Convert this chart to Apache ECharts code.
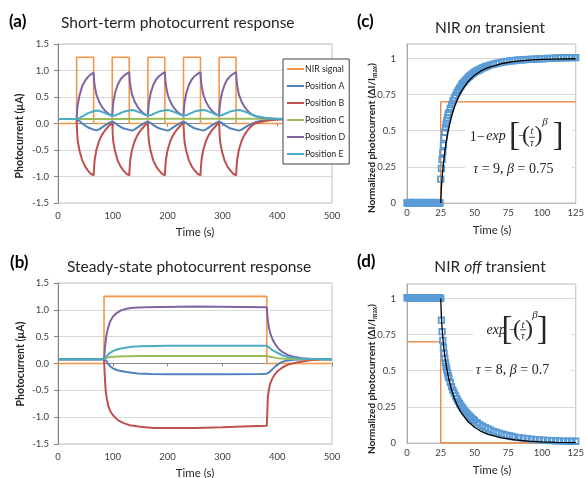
<!DOCTYPE html>
<html><head><meta charset="utf-8">
<script src="https://cdn.jsdelivr.net/npm/echarts@6/dist/echarts.min.js"></script>
<style>html,body{margin:0;padding:0;background:#fff}#c{width:587px;height:478px}</style>
</head><body><div id="c"></div>
<script>
// ---------- Panel (a): short-term response ----------
const aNirOn = [34, 99, 164, 229, 294];
const aNirOff = [65, 130, 195, 260, 325];
const nirLevel = 1.25;
const aPosA = [[0,0.085],[34,0.085],[39,0.05],[44,0.0],[54,-0.07],[65,-0.115],[70,-0.13],[75,-0.11],[85,-0.04],[95,0.02],[99,0.035],
 [104,0.01],[109,-0.03],[119,-0.09],[130,-0.12],[135,-0.135],[140,-0.11],[150,-0.04],[160,0.02],[164,0.035],
 [169,0.01],[174,-0.03],[184,-0.09],[195,-0.12],[200,-0.135],[205,-0.11],[215,-0.04],[225,0.02],[229,0.035],
 [234,0.01],[239,-0.03],[249,-0.09],[260,-0.12],[265,-0.135],[270,-0.11],[280,-0.04],[290,0.02],[294,0.035],
 [299,0.01],[304,-0.03],[314,-0.09],[325,-0.12],[330,-0.135],[335,-0.115],[345,-0.05],[355,0.0],[365,0.04],[380,0.065],[400,0.08],[500,0.085]];
const aPosB = [[0,0.085],[34,0.085],[35,-0.2],[36,-0.33],[39,-0.5],[44,-0.69],[49,-0.8],[54,-0.88],[59,-0.94],[65,-0.98],
 [66,-0.8],[67,-0.68],[70,-0.5],[75,-0.33],[80,-0.22],[85,-0.14],[90,-0.08],[95,-0.02],[99,0.01],
 [100,-0.22],[101,-0.35],[104,-0.52],[109,-0.7],[114,-0.81],[119,-0.88],[124,-0.94],[130,-0.98],
 [131,-0.8],[132,-0.68],[135,-0.5],[140,-0.33],[145,-0.22],[150,-0.14],[155,-0.08],[160,-0.02],[164,0.01],
 [165,-0.22],[166,-0.35],[169,-0.52],[174,-0.7],[179,-0.81],[184,-0.88],[189,-0.94],[195,-0.98],
 [196,-0.8],[197,-0.68],[200,-0.5],[205,-0.33],[210,-0.22],[215,-0.14],[220,-0.08],[225,-0.02],[229,0.01],
 [230,-0.22],[231,-0.35],[234,-0.52],[239,-0.7],[244,-0.81],[249,-0.88],[254,-0.94],[260,-0.98],
 [261,-0.8],[262,-0.68],[265,-0.5],[270,-0.33],[275,-0.22],[280,-0.14],[285,-0.08],[290,-0.02],[294,0.01],
 [295,-0.22],[296,-0.35],[299,-0.52],[304,-0.7],[309,-0.81],[314,-0.88],[319,-0.94],[325,-0.98],
 [326,-0.8],[327,-0.68],[330,-0.5],[335,-0.33],[340,-0.22],[345,-0.14],[350,-0.08],[355,-0.03],[360,0.0],[370,0.03],[380,0.05],[395,0.07],[410,0.08],[500,0.085]];
const aPosC = [[0,0.085],[100,0.085],[200,0.09],[300,0.09],[400,0.09],[500,0.085]];
const aPosD = [[0,0.085],[34,0.085],[35,0.25],[36,0.35],[39,0.52],[44,0.7],[49,0.8],[54,0.87],[59,0.92],[65,0.96],
 [66,0.8],[67,0.71],[70,0.55],[75,0.41],[80,0.32],[85,0.25],[90,0.2],[95,0.165],[99,0.145],
 [100,0.3],[101,0.4],[104,0.57],[109,0.73],[114,0.83],[119,0.89],[124,0.93],[130,0.97],
 [131,0.81],[132,0.72],[135,0.55],[140,0.41],[145,0.32],[150,0.25],[155,0.2],[160,0.165],[164,0.145],
 [165,0.3],[166,0.4],[169,0.57],[174,0.73],[179,0.83],[184,0.89],[189,0.93],[195,0.97],
 [196,0.81],[197,0.72],[200,0.55],[205,0.41],[210,0.32],[215,0.25],[220,0.2],[225,0.165],[229,0.145],
 [230,0.3],[231,0.4],[234,0.57],[239,0.73],[244,0.83],[249,0.89],[254,0.93],[260,0.97],
 [261,0.81],[262,0.72],[265,0.55],[270,0.41],[275,0.32],[280,0.25],[285,0.2],[290,0.165],[294,0.145],
 [295,0.3],[296,0.4],[299,0.57],[304,0.73],[309,0.83],[314,0.89],[319,0.93],[325,0.97],
 [326,0.81],[327,0.72],[330,0.55],[335,0.41],[340,0.32],[345,0.25],[350,0.2],[355,0.165],[360,0.14],[370,0.115],[380,0.1],[390,0.09],[400,0.085],[500,0.085]];
const aPosE = [[0,0.085],[34,0.085],[39,0.1],[44,0.13],[54,0.19],[65,0.23],[70,0.245],[75,0.24],[85,0.2],[95,0.155],[99,0.145],
 [104,0.15],[109,0.175],[119,0.22],[130,0.245],[135,0.255],[140,0.245],[150,0.205],[160,0.16],[164,0.15],
 [169,0.155],[174,0.18],[184,0.225],[195,0.25],[200,0.255],[205,0.245],[215,0.205],[225,0.16],[229,0.15],
 [234,0.155],[239,0.18],[249,0.225],[260,0.25],[265,0.255],[270,0.245],[280,0.205],[290,0.16],[294,0.15],
 [299,0.155],[304,0.18],[314,0.225],[325,0.25],[330,0.255],[335,0.245],[345,0.205],[355,0.16],[365,0.13],[380,0.105],[400,0.09],[420,0.085],[500,0.085]];

// ---------- Panel (b): steady-state response ----------
const bNirOn = [84];
const bNirOff = [381];
const bPosA = [[0,0.08],[84,0.08],[88,0.05],[91,0.0],[95,-0.05],[100,-0.09],[110,-0.13],[125,-0.16],[145,-0.185],[170,-0.195],[200,-0.2],[300,-0.2],[370,-0.195],[381,-0.19],[386,-0.16],[392,-0.1],[398,-0.04],[405,0.01],[415,0.05],[430,0.07],[450,0.08],[500,0.08]];
const bPosB = [[0,0.08],[84,0.08],[85,-0.15],[86,-0.35],[87,-0.5],[89,-0.65],[92,-0.8],[96,-0.9],[100,-0.96],[104,-1.0],[110,-1.06],[120,-1.11],[131,-1.15],[150,-1.18],[175,-1.2],[250,-1.2],[300,-1.19],[350,-1.17],[381,-1.16],
 [382,-0.9],[383,-0.62],[385,-0.48],[387,-0.38],[391,-0.28],[396,-0.2],[400,-0.15],[410,-0.07],[420,-0.02],[440,0.03],[460,0.06],[480,0.075],[500,0.08]];
const bPosC = [[0,0.08],[84,0.08],[88,0.1],[95,0.12],[110,0.13],[150,0.14],[381,0.14],[390,0.12],[400,0.1],[415,0.09],[440,0.08],[500,0.08]];
const bPosD = [[0,0.08],[84,0.08],[86,0.33],[88,0.5],[91,0.65],[95,0.78],[100,0.87],[107,0.94],[115,0.99],[125,1.02],[137,1.04],[160,1.05],[250,1.06],[381,1.05],
 [382,0.9],[383,0.8],[385,0.66],[388,0.54],[392,0.44],[397,0.35],[403,0.27],[410,0.21],[420,0.155],[430,0.125],[445,0.1],[460,0.09],[480,0.085],[500,0.08]];
const bPosE = [[0,0.08],[84,0.08],[90,0.15],[95,0.2],[100,0.23],[107,0.26],[120,0.29],[135,0.31],[150,0.32],[200,0.33],[300,0.33],[381,0.33],[385,0.3],[390,0.26],[400,0.2],[410,0.15],[420,0.12],[435,0.1],[450,0.09],[500,0.08]];

// ---------- Panel (c): NIR on transient ----------
const cNir = [[0,0],[25,0],[25,0.7],[125,0.7]];
const cData = [[0,0],[1,0],[2,0.005],[3,0],[4,0],[5,0.005],[6,0],[7,0],[8,0],[9,0.005],[10,0],[11,0],[12,0],[13,0.005],[14,0],[15,0],[16,0],[17,0.005],[18,0],[19,0],[20,0],[21,0.005],[22,0],[23,0],[24,0],[24.5,0],
 [25,0.165],[25.5,0.24],[26,0.3],[26.5,0.35],[27,0.4],[27.5,0.45],[28,0.49],[28.5,0.52],[29,0.545],[29.5,0.57],[30,0.59],[30.5,0.61],[31,0.625],[32,0.655],[33,0.68],[34,0.705],[35,0.725],[36,0.745],[37,0.765],[38,0.78],[39,0.795],[40,0.81],
 [41,0.825],[42,0.835],[43,0.845],[44,0.855],[45,0.865],[46,0.875],[47,0.882],[48,0.89],[49,0.897],[50,0.905],[51,0.91],[52,0.915],[53,0.92],[54,0.925],[55,0.93],[56,0.935],[57,0.938],[58,0.942],[59,0.945],[60,0.948],
 [62,0.955],[64,0.96],[66,0.965],[68,0.97],[70,0.973],[72,0.976],[74,0.979],[76,0.982],[78,0.984],[80,0.986],[82,0.988],[84,0.99],[86,0.991],[88,0.992],[90,0.993],[92,0.994],[94,0.995],[96,0.996],[98,0.997],[100,0.998],
 [102,0.999],[104,1.0],[106,1.0],[108,1.001],[110,1.002],[112,1.003],[114,1.004],[116,1.005],[118,1.005],[120,1.006],[122,1.006],[124,1.006],[125,1.006]];
const cFit = [[25,0],[25.5,0.108],[26,0.175],[27,0.277],[28,0.355],[29,0.42],[30,0.474],[31,0.522],[33,0.6],[35,0.661],[37,0.71],[40,0.769],[45,0.838],[50,0.884],[55,0.915],[60,0.937],[70,0.965],[80,0.98],[90,0.988],[100,0.993],[110,0.995],[125,0.998]];

// ---------- Panel (d): NIR off transient ----------
const dNir = [[0,0.7],[25,0.7],[25,0],[125,0]];
const dData = [[0,1.005],[1,1.005],[2,1.0],[3,1.005],[4,1.005],[5,1.0],[6,1.005],[7,1.005],[8,1.005],[9,1.0],[10,1.005],[11,1.005],[12,1.005],[13,1.0],[14,1.005],[15,1.005],[16,1.005],[17,1.0],[18,1.005],[19,1.005],[20,1.005],[21,1.0],[22,1.005],[23,1.005],[24,1.005],[24.5,1.0],[25,1.0],
 [25.5,0.85],[26,0.77],[26.5,0.71],[27,0.66],[27.5,0.62],[28,0.585],[28.5,0.555],[29,0.53],[29.5,0.505],[30,0.485],[30.5,0.465],[31,0.45],[32,0.42],[33,0.39],[34,0.365],[35,0.345],[36,0.325],[37,0.305],[38,0.288],[39,0.272],[40,0.258],
 [41,0.244],[42,0.232],[43,0.22],[44,0.209],[45,0.198],[46,0.188],[47,0.178],[48,0.17],[49,0.162],[50,0.154],[52,0.14],[54,0.127],[56,0.116],[58,0.106],[60,0.097],[62,0.089],[64,0.081],[66,0.075],[68,0.069],[70,0.063],
 [72,0.058],[74,0.053],[76,0.049],[78,0.045],[80,0.041],[83,0.037],[86,0.033],[89,0.03],[92,0.027],[95,0.024],[98,0.022],[101,0.02],[104,0.018],[107,0.016],[110,0.015],[113,0.014],[116,0.013],[119,0.012],[122,0.012],[125,0.012]];
const dFit = [[25,1.0],[25.5,0.866],[26,0.792],[27,0.684],[28,0.605],[29,0.54],[30,0.487],[31,0.441],[33,0.368],[35,0.311],[37,0.265],[40,0.212],[45,0.15],[50,0.109],[55,0.08],[60,0.06],[70,0.035],[80,0.021],[90,0.013],[100,0.008],[110,0.005],[125,0.003]];

// ---------- labels ----------
const seriesNames = ['NIR signal','Position A','Position B','Position C','Position D','Position E'];
const seriesColors = ['#f79646','#4f81bd','#c0504d','#9bbb59','#8064a2','#4bacc6'];

function stepSeries(ons, offs, level, tEnd){
  const pts = [[0,0]];
  for (let i=0;i<ons.length;i++){ pts.push([ons[i],0],[ons[i],level],[offs[i],level],[offs[i],0]); }
  pts.push([tEnd,0]);
  return pts;
}

const F = 'Lato, "Open Sans", sans-serif';
const FS = '"Liberation Serif", "DejaVu Serif", serif';
const gridLine = '#d9d9d9', border = '#bfbfbf', axisDark = '#868686', tickText = '#404040';

const chart = echarts.init(document.getElementById('c'), null, {renderer:'canvas'});

function abAxes(g){
  return [
    {gridIndex:g, type:'value', min:0, max:500, interval:100,
     axisLine:{show:true, onZero:true, lineStyle:{color:axisDark, width:1}},
     axisTick:{show:true, length:3, lineStyle:{color:axisDark}}, axisLabel:{show:false}, splitLine:{show:false}},
    {gridIndex:g, type:'value', min:0, max:500, interval:100, position:'bottom',
     axisLine:{show:false, onZero:false}, axisTick:{show:false},
     axisLabel:{fontSize:9.5, color:tickText, fontFamily:F, margin:8}, splitLine:{show:false}}
  ];
}
function cdAxis(g){
  return {gridIndex:g, type:'value', min:0, max:125, interval:25,
    axisLine:{show:true, onZero:false, lineStyle:{color:border}}, axisTick:{show:false},
    axisLabel:{fontSize:9.5, color:tickText, fontFamily:F, margin:5}, splitLine:{show:false}};
}
function abY(g){
  return {gridIndex:g, type:'value', min:-1.5, max:1.5, interval:0.5,
    axisLine:{show:true, onZero:false, lineStyle:{color:axisDark}}, axisTick:{show:true, length:4, lineStyle:{color:axisDark}},
    axisLabel:{fontSize:9.5, color:tickText, fontFamily:F, margin:9, formatter:v=>v.toFixed(1)},
    splitLine:{show:true, lineStyle:{color:gridLine}}};
}
function cdY(g){
  return {gridIndex:g, type:'value', min:0, max:1.1, interval:0.25,
    axisLine:{show:true, onZero:false, lineStyle:{color:'#a6a6a6'}}, axisTick:{show:false},
    axisLabel:{fontSize:9.5, color:tickText, fontFamily:F, margin:11, formatter:v=> v>1.01 ? '' : String(+v.toFixed(2))},
    splitLine:{show:true, lineStyle:{color:gridLine}}};
}

const abData = [
  [stepSeries(aNirOn,aNirOff,nirLevel,500), aPosA, aPosB, aPosC, aPosD, aPosE],
  [stepSeries(bNirOn,bNirOff,nirLevel,500), bPosA, bPosB, bPosC, bPosD, bPosE]
];
const series = [];
abData.forEach((set, gi)=>{
  set.forEach((d, i)=>{
    series.push({type:'line', name:seriesNames[i], xAxisIndex: gi*2, yAxisIndex: gi, data:d,
      symbol:'none', showSymbol:false, animation:false,
      lineStyle:{color:seriesColors[i], width: i===0 ? 1.6 : 2},
      itemStyle:{color:seriesColors[i]}});
  });
});
[[cNir,cData,cFit],[dNir,dData,dFit]].forEach((set, k)=>{
  const xi = 4+k, yi = 2+k;
  series.push({type:'line', xAxisIndex:xi, yAxisIndex:yi, data:set[0], symbol:'none', animation:false,
    lineStyle:{color:'#ed7d31', width:1.3}, z:2});
  series.push({type:'scatter', xAxisIndex:xi, yAxisIndex:yi, data:set[1], symbol:'rect', symbolSize:5.5, animation:false,
    itemStyle:{color:'rgba(255,255,255,0)', borderColor:'#5b9bd5', borderWidth:1.8, opacity:1}, z:3});
  series.push({type:'line', xAxisIndex:xi, yAxisIndex:yi, data:set[2], symbol:'none', animation:false,
    lineStyle:{color:'#000', width:1.3}, z:4});
});

// ---------- text / graphics ----------
const G = [];
function T(x,y,text,o){
  const st = Object.assign({text:text, fill:'#262626', fontFamily:F, fontSize:14, align:'left', verticalAlign:'middle'}, o||{});
  const el = {type:'text', x:x, y:y, z:100, style:st};
  if (o && o.rot) { el.rotation = o.rot; }
  G.push(el);
}
// panel titles
T(9,22,'(a)',{fontSize:17,fontWeight:'bold',fill:'#000'});
T(61,23,'Short-term photocurrent response',{fontSize:15.5});
T(10,263,'(b)',{fontSize:17,fontWeight:'bold',fill:'#000'});
T(67,267,'Steady-state photocurrent response',{fontSize:15.5});
T(357,22,'(c)',{fontSize:17,fontWeight:'bold',fill:'#000'});
T(490,28,'NIR {i|on} transient',{fontSize:15.5,align:'center',rich:{i:{fontStyle:'italic',fontSize:15.5,fontFamily:F,fill:'#262626'}}});
T(357,262,'(d)',{fontSize:17,fontWeight:'bold',fill:'#000'});
T(490,267,'NIR {i|off} transient',{fontSize:15.5,align:'center',rich:{i:{fontStyle:'italic',fontSize:15.5,fontFamily:F,fill:'#262626'}}});
// axis titles
T(20,136,'Photocurrent (µA)',{fontSize:10.5,fontWeight:'bold',align:'center',rot:Math.PI/2});
T(21,364,'Photocurrent (µA)',{fontSize:10.5,fontWeight:'bold',align:'center',rot:Math.PI/2});
T(195,232,'Time (s)',{fontSize:11.5,align:'center'});
T(195,473,'Time (s)',{fontSize:11.5,align:'center'});
T(492,230,'Time (s)',{fontSize:11.5,align:'center'});
T(492,470,'Time (s)',{fontSize:11.5,align:'center'});
const ylab = '{n|Normalized photocurrent (ΔI/I}{s|max}{n|)}';
const yrich = {n:{fontSize:10,fontWeight:'bold',fontFamily:F,fill:'#262626',lineHeight:12},
               s:{fontSize:6.5,fontWeight:'bold',fontFamily:F,fill:'#262626',lineHeight:12,verticalAlign:'bottom'}};
T(372,138,ylab,{align:'center',rot:Math.PI/2,rich:yrich});
T(372,379,ylab,{align:'center',rot:Math.PI/2,rich:yrich});
// equation boxes
G.push({type:'rect', z:90, shape:{x:465,y:115,width:107,height:63}, style:{fill:'#fff'}});
G.push({type:'rect', z:90, shape:{x:473,y:312,width:98,height:68}, style:{fill:'#fff'}});
const ec = '#262626';
function M(x,y,text,size,italic){ T(x,y,text,{fontFamily:FS,fontSize:size,fontStyle:italic?'italic':'normal',align:'center',fill:ec}); }
// (c) equation
M(473.3,137,'1',14); M(481,137,'−',14); M(496,136,'exp',14,true);
M(514.5,136,'[',33); M(521.7,137,'−',13); M(526,136,'(',24);
M(532,131,'t',10.5,true); M(532,143.5,'τ',10.5,true); M(538.5,136,')',24); M(545,122,'β',11,true); M(558,136,']',33);
G.push({type:'line', z:100, shape:{x1:529,y1:137.3,x2:535,y2:137.3}, style:{stroke:ec,lineWidth:0.8}});
T(513.3,169,'{i|τ}{n| = 9, }{i|β}{n| = 0.75}',{align:'center',rich:{n:{fontFamily:FS,fontSize:14,fill:ec},i:{fontFamily:FS,fontSize:14,fontStyle:'italic',fill:ec}}});
// (d) equation
M(496.3,330,'exp',14,true);
M(507,330,'[',33); M(512.5,331,'−',13); M(517,330,'(',24);
M(523,325,'t',10.5,true); M(523,336,'τ',10.5,true); M(529,330,')',24); M(535,315,'β',11,true); M(542.3,330,']',33);
G.push({type:'line', z:100, shape:{x1:520,y1:329.8,x2:526,y2:329.8}, style:{stroke:ec,lineWidth:0.8}});
T(512.5,370,'{i|τ}{n| = 8, }{i|β}{n| = 0.7}',{align:'center',rich:{n:{fontFamily:FS,fontSize:14,fill:ec},i:{fontFamily:FS,fontSize:14,fontStyle:'italic',fill:ec}}});

const gridBase = {show:true, borderColor:border, borderWidth:1, backgroundColor:'transparent', containLabel:false};
chart.setOption({
  animation:false,
  backgroundColor:'#fff',
  grid:[
    Object.assign({left:58, top:44, width:274, height:159}, gridBase),
    Object.assign({left:58, top:283, width:274, height:161}, gridBase),
    Object.assign({left:407, top:44, width:171, height:159}, gridBase),
    Object.assign({left:407, top:284, width:171, height:159}, gridBase)
  ],
  xAxis:[...abAxes(0), ...abAxes(1), cdAxis(2), cdAxis(3)],
  yAxis:[abY(0), abY(1), cdY(2), cdY(3)],
  legend:{show:true, orient:'vertical', left:283, top:59, itemWidth:17, itemHeight:2, itemGap:5, icon:'rect',
    padding:[4,4,4,4], borderColor:'#404040', borderWidth:1, backgroundColor:'#fff', selectedMode:false,
    textStyle:{fontSize:8.8, color:'#262626', fontFamily:F, lineHeight:12, padding:[0,0,0,-4]},
    data:seriesNames},
  series:series,
  graphic:{elements:G}
});
</script></body></html>
